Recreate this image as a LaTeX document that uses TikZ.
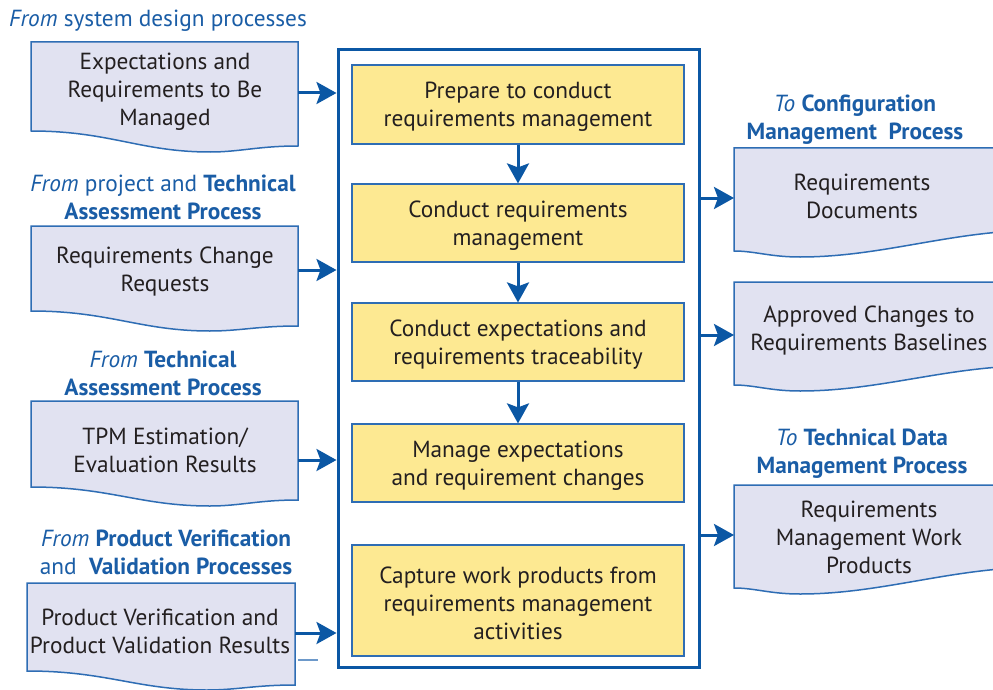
\documentclass[tikz,border=0pt]{standalone}
\usepackage{fontspec}
\setmainfont{PT Sans}
\usetikzlibrary{arrows.meta}
\definecolor{nblue}{HTML}{0B57A4}
\definecolor{lblue}{HTML}{1A5DA6}
\definecolor{bblue}{HTML}{2E6DB4}
\definecolor{docfill}{HTML}{E1E2F1}
\definecolor{yfill}{HTML}{FDE992}
\definecolor{txt}{HTML}{231F20}
\begin{document}
\begin{tikzpicture}[x=1pt,y=-1pt,
  font=\fontsize{23.3}{28}\selectfont,
  arr/.style={nblue,line width=3pt,-{Stealth[length=20pt,width=22pt,inset=4pt]}},
  ybox/.style={draw=bblue,line width=1.2pt,fill=yfill,minimum width=332pt,inner sep=0pt},
  boxtxt/.style={text=txt,align=center,inner sep=0pt,yshift=-2.5pt},
  doctxt/.style={text=txt,align=center,inner sep=0pt,yshift=-2pt},
  lbl/.style={text=lblue,align=center,inner sep=0pt,yshift=-2pt},
  docshape/.style={draw=bblue,line width=1.5pt,fill=docfill}]
\clip (0,0) rectangle (993,690);
\fill[white] (0,0) rectangle (993,690);
% main container
\node[draw=nblue,line width=3pt,minimum width=361pt,minimum height=617pt,inner sep=0pt] (main) at (518.5,358.5) {};
% yellow process boxes
\node[ybox,minimum height=79pt] (p1) at (518,104.5) {};
\node[ybox,minimum height=78pt] (p2) at (518,223) {};
\node[ybox,minimum height=78pt] (p3) at (518,342) {};
\node[ybox,minimum height=78pt] (p4) at (518,463) {};
\node[ybox,minimum height=111pt] (p5) at (518,600.5) {};
\node[boxtxt] (t1) at (p1) {Prepare to conduct\\requirements management};
\node[boxtxt] (t2) at (p2) {Conduct requirements\\management};
\node[boxtxt] (t3) at (p3) {Conduct expectations and\\requirements traceability};
\node[boxtxt] (t4) at (p4) {Manage expectations\\and requirement changes};
\node[boxtxt] (t5) at (p5) {Capture work products from\\requirements management\\activities};
\draw[arr] (p1.south) -- (p2.north);
\draw[arr] (p2.south) -- (p3.north);
\draw[arr] (p3.south) -- (p4.north);
% left documents
\draw[docshape] (31,42) -- (298,42) -- (298,146) .. controls (258,146) and (240,152) .. (210,152) .. controls (140,152) and (110,131) .. (31,131) -- cycle;
\draw[docshape] (31,226) -- (298,226) -- (298,326) .. controls (258,326) and (240,331) .. (210,331) .. controls (140,331) and (110,311) .. (31,311) -- cycle;
\draw[docshape] (31,401) -- (298,401) -- (298,500) .. controls (258,500) and (240,506) .. (210,506) .. controls (140,506) and (110,487) .. (31,487) -- cycle;
\draw[docshape] (27,583) -- (295,583) -- (295,685) .. controls (255,685) and (237,690) .. (207,690) .. controls (137,690) and (107,671) .. (27,671) -- cycle;
\node[doctxt] (d1) at (165,90) {Expectations and\\Requirements to Be\\Managed};
\node[doctxt] (d2) at (165,269.5) {Requirements Change\\Requests};
\node[doctxt] (d3) at (165,448) {TPM Estimation/\\Evaluation Results};
\node[doctxt] (d4) at (160,629) {Product Verification and\\Product Validation Results};
% right documents
\draw[docshape] (734,148) -- (1000,148) -- (1000,232) .. controls (930,238) and (870,257) .. (800,257) .. controls (770,257) and (755,251) .. (734,251) -- cycle;
\draw[docshape] (734,282) -- (1000,282) -- (1000,367) .. controls (930,372) and (870,391) .. (800,391) .. controls (770,391) and (755,385) .. (734,385) -- cycle;
\draw[docshape] (734,485) -- (1000,485) -- (1000,569) .. controls (930,575) and (870,594) .. (800,594) .. controls (770,594) and (755,588) .. (734,588) -- cycle;
\node[doctxt] (r1) at (862,194) {Requirements\\Documents};
\node[doctxt] (r2) at (869,328.5) {Approved Changes to\\Requirements Baselines};
\node[doctxt] (r3) at (869,535) {Requirements\\Management Work\\Products};
% labels
\node[lbl] (l1) at (158,19) {\textit{From} system design processes};
\node[lbl] (l2) at (163,195) {\textit{From} project and \textbf{Technical}\\\textbf{Assessment Process}};
\node[lbl] (l3) at (163,371) {\textit{From} \textbf{Technical}\\\textbf{Assessment Process}};
\node[lbl] (l4) at (166,550.5) {\textit{From} \textbf{Product Verification}\\and \ \textbf{Validation Processes}};
\node[lbl] (l5) at (855,118) {\textit{To} \textbf{Configuration}\\\textbf{Management \ Process}};
\node[lbl] (l6) at (862,452) {\textit{To} \textbf{Technical Data}\\\textbf{Management Process}};
% connectors
\coordinate (a1) at (298,93);
\coordinate (a2) at (298,270);
\coordinate (a3) at (298,460);
\coordinate (a4) at (295,633);
\coordinate (b1) at (734,198);
\coordinate (b2) at (734,335);
\coordinate (b3) at (734,535);
\draw[arr] (a1) -- (a1 -| main.west);
\draw[arr] (a2) -- (a2 -| main.west);
\draw[arr] (a3) -- (a3 -| main.west);
\draw[arr] (a4) -- (a4 -| main.west);
\draw[arr] (b1 -| main.east) -- (b1);
\draw[arr] (b2 -| main.east) -- (b2);
\draw[arr] (b3 -| main.east) -- (b3);
\coordinate (s1) at (298,660);
\draw[bblue!70,line width=1.2pt] (s1) -- ++(20,0);
\end{tikzpicture}
\end{document}
